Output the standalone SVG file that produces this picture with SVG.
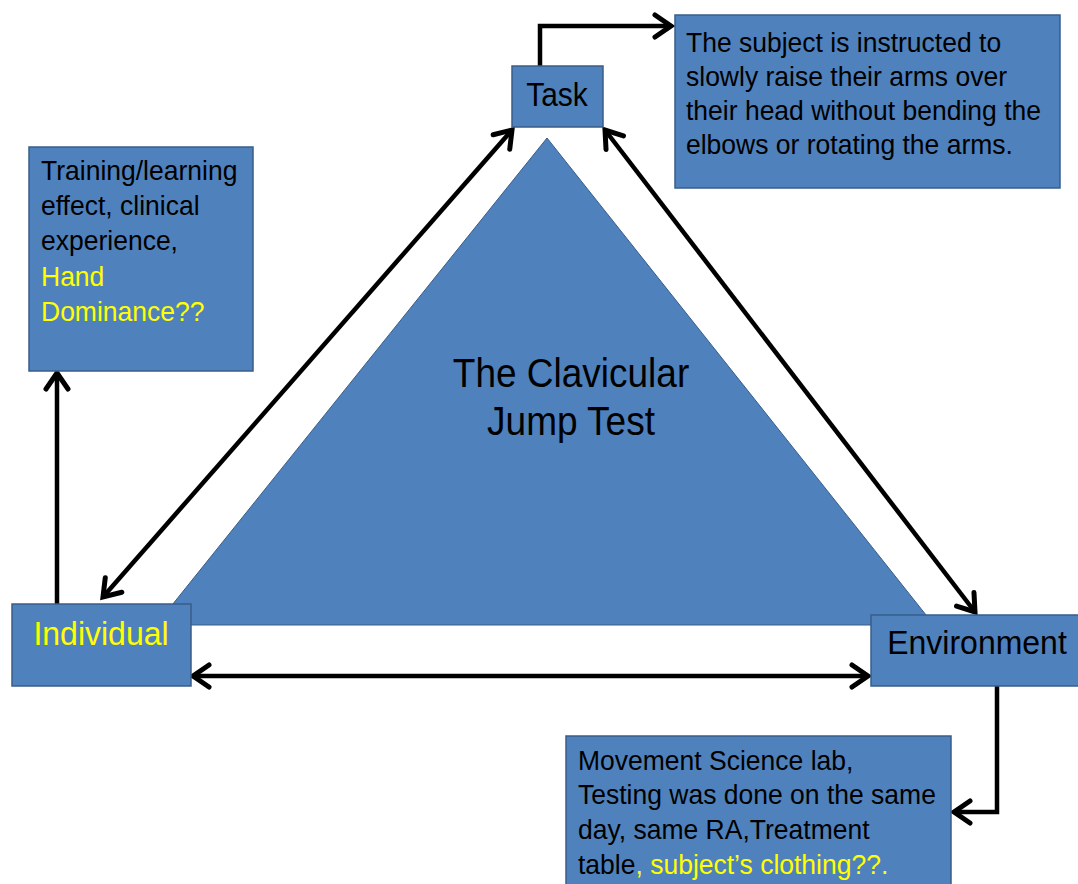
<svg xmlns="http://www.w3.org/2000/svg" width="1078" height="884" viewBox="0 0 1078 884">
<style>
.box{fill:#4F81BD;stroke:#385D8A;stroke-width:1.5}
.t{font-family:"Liberation Sans",Arial,sans-serif;font-size:26.5px;fill:#000}
.big{font-family:"Liberation Sans",Arial,sans-serif;font-size:32px;fill:#000}
.y{fill:#FFFF00}
.c{fill:none;stroke:#000;stroke-width:4.5}
</style>
<defs>
<marker id="ah" markerUnits="userSpaceOnUse" markerWidth="40" markerHeight="40" refX="0" refY="0" viewBox="-25 -20 30 40" orient="auto-start-reverse" overflow="visible">
<path d="M -16 -11 L 0 0 L -16 11" fill="none" stroke="#000" stroke-width="5" stroke-linejoin="miter" stroke-linecap="round"/>
</marker>
</defs>
<rect width="1078" height="884" fill="#fff"/>
<g id="triangle">
<polygon points="547,138 156,625 934,625" fill="#4F81BD" stroke="#385D8A" stroke-width="1"/>
<text transform="matrix(1 0 0 1.09 571 387)" text-anchor="middle" font-family="Liberation Sans, Arial, sans-serif" font-size="37" fill="#000">The Clavicular</text>
<text transform="matrix(1 0 0 1.09 571 435)" text-anchor="middle" font-family="Liberation Sans, Arial, sans-serif" font-size="37" fill="#000">Jump Test</text>
</g>
<g id="connectors">
<path class="c" d="M 103 597 L 512 130" marker-start="url(#ah)" marker-end="url(#ah)"/>
<path class="c" d="M 605 130 L 975 612" marker-start="url(#ah)" marker-end="url(#ah)"/>
<path class="c" d="M 193 676 L 868 676" marker-start="url(#ah)" marker-end="url(#ah)"/>
<path class="c" d="M 57 604 L 57 373" marker-end="url(#ah)"/>
<path class="c" d="M 540 66 L 540 26 L 671 26" marker-end="url(#ah)"/>
<path class="c" d="M 997 686 L 997 812 L 954 812" marker-end="url(#ah)"/>
</g>
<g id="task">
<rect class="box" x="512" y="66" width="91" height="61"/>
<text transform="matrix(1 0 0 1.12 557 106)" text-anchor="middle" font-family="Liberation Sans, Arial, sans-serif" font-size="30" fill="#000">Task</text>
</g>
<g id="task-desc">
<rect class="box" x="675" y="15" width="385" height="173"/>
<text class="t" transform="matrix(1 0 0 1.07 686 52)">The subject is instructed to</text>
<text class="t" transform="matrix(1 0 0 1.07 686 86)">slowly raise their arms over</text>
<text class="t" transform="matrix(1 0 0 1.07 686 120)">their head without bending the</text>
<text class="t" transform="matrix(1 0 0 1.07 686 154)">elbows or rotating the arms.</text>
</g>
<g id="individual-factors">
<rect class="box" x="29" y="147" width="224" height="224"/>
<text class="t" transform="matrix(1 0 0 1.07 41 180)">Training/learning</text>
<text class="t" transform="matrix(1 0 0 1.07 41 215)">effect, clinical</text>
<text class="t" transform="matrix(1 0 0 1.07 41 250)">experience,</text>
<text class="t y" transform="matrix(1 0 0 1.07 41 286)">Hand</text>
<text class="t y" transform="matrix(1 0 0 1.07 41 321)">Dominance??</text>
</g>
<g id="individual">
<rect class="box" x="12" y="604" width="179" height="82"/>
<text class="big y" transform="matrix(1 0 0 1.06 101 645)" text-anchor="middle">Individual</text>
</g>
<g id="environment">
<rect class="box" x="871" y="615" width="210" height="71"/>
<text class="big" transform="matrix(1 0 0 1.06 977 654)" text-anchor="middle">Environment</text>
</g>
<g id="environment-desc">
<rect class="box" x="566" y="736" width="385" height="160"/>
<text class="t" transform="matrix(1 0 0 1.07 578 770)">Movement Science lab,</text>
<text class="t" transform="matrix(1 0 0 1.07 578 804)">Testing was done on the same</text>
<text class="t" transform="matrix(1 0 0 1.07 578 839)">day, same RA,Treatment</text>
<text class="t" transform="matrix(1 0 0 1.07 578 874)">table<tspan class="y">, subject’s clothing??.</tspan></text>
</g>
</svg>
